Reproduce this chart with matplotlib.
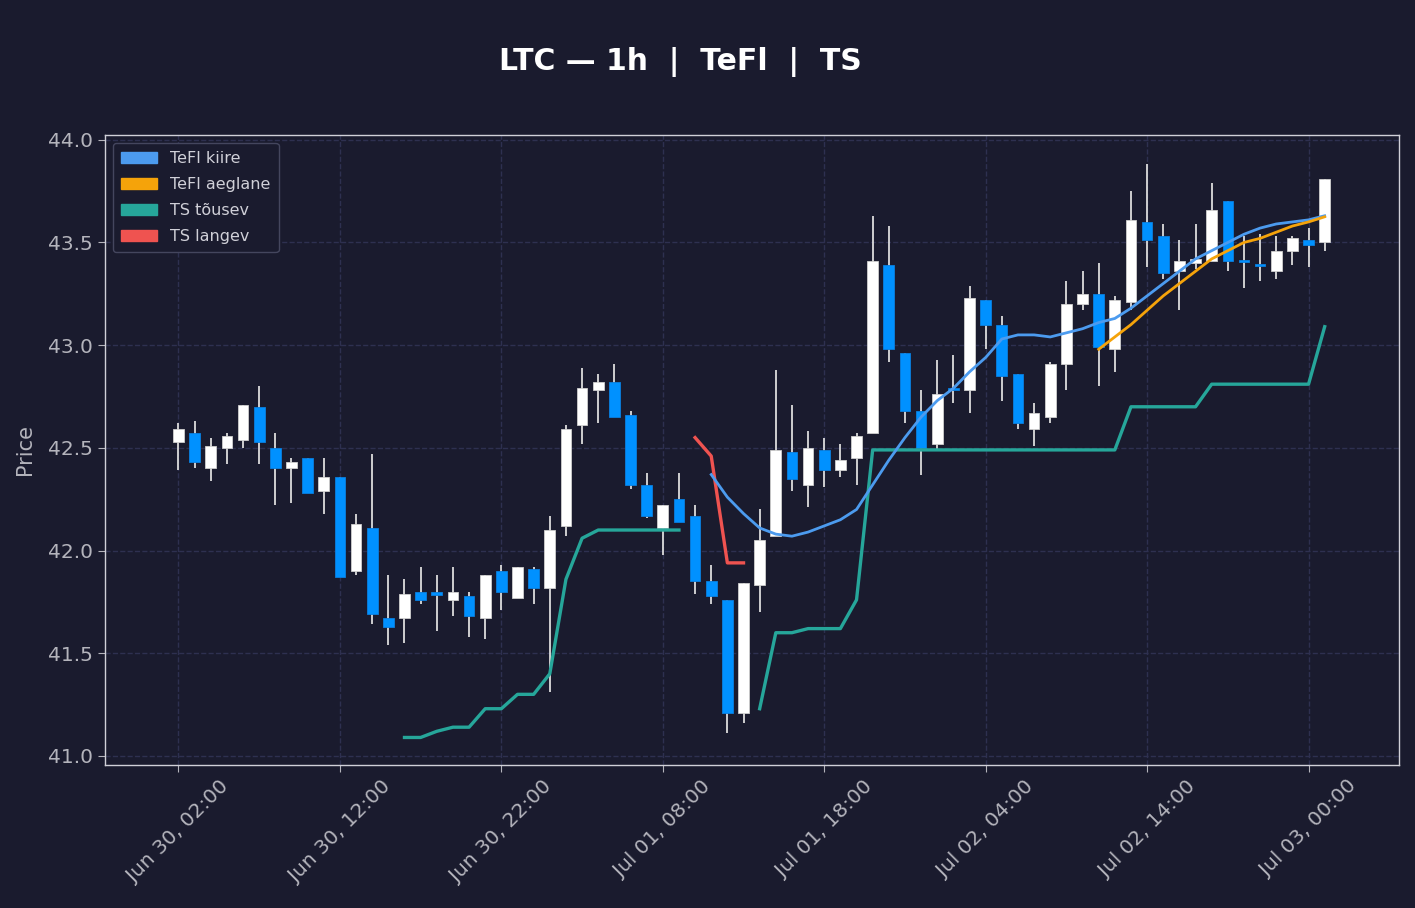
import matplotlib
matplotlib.use("Agg")
import matplotlib.pyplot as plt
import matplotlib.dates as mdates
import matplotlib.patches as mpatches
import numpy as np
import pandas as pd

# hourly candles, Jun 30 02:00 -> Jul 03 01:00
times = pd.date_range("2025-06-30 02:00", periods=72, freq="h")

opens = [42.53, 42.57, 42.40, 42.50, 42.54, 42.70, 42.50, 42.40, 42.45, 42.29,
         42.36, 41.90, 42.11, 41.67, 41.67, 41.80, 41.79, 41.76, 41.78, 41.67,
         41.90, 41.77, 41.91, 41.82, 42.12, 42.61, 42.78, 42.82, 42.66, 42.32,
         42.11, 42.25, 42.17, 41.85, 41.76, 41.21, 41.83, 42.07, 42.48, 42.32,
         42.49, 42.39, 42.45, 42.57, 43.39, 42.96, 42.68, 42.52, 42.79, 42.78,
         43.22, 43.10, 42.86, 42.59, 42.65, 42.91, 43.20, 43.25, 42.98, 43.21,
         43.60, 43.53, 43.36, 43.40, 43.41, 43.70, 43.415, 43.39, 43.36, 43.46,
         43.51, 43.50]
closes = [42.59, 42.43, 42.51, 42.56, 42.71, 42.53, 42.40, 42.43, 42.28, 42.36,
          41.87, 42.13, 41.69, 41.63, 41.79, 41.76, 41.785, 41.80, 41.68, 41.88,
          41.80, 41.92, 41.82, 42.10, 42.59, 42.79, 42.82, 42.65, 42.32, 42.17,
          42.22, 42.14, 41.85, 41.78, 41.21, 41.84, 42.05, 42.49, 42.35, 42.50,
          42.39, 42.44, 42.56, 43.41, 42.98, 42.68, 42.50, 42.76, 42.78, 43.23,
          43.10, 42.85, 42.62, 42.67, 42.91, 43.20, 43.25, 42.99, 43.22, 43.61,
          43.51, 43.35, 43.41, 43.42, 43.66, 43.41, 43.405, 43.385, 43.46, 43.52,
          43.49, 43.81]
highs = [42.62, 42.63, 42.55, 42.57, 42.71, 42.80, 42.57, 42.45, 42.45, 42.45,
         42.36, 42.18, 42.47, 41.88, 41.86, 41.92, 41.88, 41.92, 41.80, 41.88,
         41.93, 41.92, 41.92, 42.17, 42.61, 42.89, 42.86, 42.91, 42.68, 42.38,
         42.22, 42.38, 42.22, 41.93, 41.76, 41.84, 42.20, 42.88, 42.71, 42.58,
         42.55, 42.52, 42.57, 43.63, 43.58, 42.96, 42.78, 42.93, 42.95, 43.29,
         43.22, 43.14, 42.86, 42.72, 42.92, 43.31, 43.36, 43.40, 43.24, 43.75,
         43.88, 43.59, 43.51, 43.59, 43.79, 43.70, 43.53, 43.54, 43.53, 43.53,
         43.57, 43.81]
lows = [42.39, 42.40, 42.34, 42.42, 42.50, 42.42, 42.22, 42.23, 42.28, 42.18,
        41.87, 41.88, 41.64, 41.54, 41.55, 41.74, 41.61, 41.68, 41.58, 41.57,
        41.71, 41.77, 41.74, 41.31, 42.07, 42.52, 42.62, 42.65, 42.30, 42.16,
        41.98, 42.14, 41.79, 41.74, 41.11, 41.16, 41.70, 42.07, 42.29, 42.21,
        42.31, 42.36, 42.32, 42.57, 42.92, 42.62, 42.37, 42.49, 42.72, 42.67,
        42.98, 42.73, 42.59, 42.51, 42.62, 42.78, 43.17, 42.80, 42.87, 43.17,
        43.38, 43.32, 43.17, 43.37, 43.41, 43.36, 43.28, 43.31, 43.32, 43.39,
        43.38, 43.46]

N = np.nan
# TeFl fast / slow lines
tefl_kiire = [N]*33 + [42.37, 42.26, 42.18, 42.11, 42.08, 42.07, 42.09, 42.12, 42.15,
                       42.20, 42.32, 42.44, 42.55, 42.65, 42.73, 42.79, 42.87, 42.94, 43.03,
                       43.05, 43.05, 43.04, 43.06, 43.08, 43.11, 43.13, 43.18, 43.24, 43.30,
                       43.36, 43.42, 43.46, 43.50, 43.54, 43.57, 43.59, 43.60, 43.61, 43.63]
tefl_aeglane = [N]*57 + [42.98, 43.04, 43.10, 43.17, 43.24, 43.30, 43.36, 43.42, 43.46,
                         43.50, 43.52, 43.55, 43.58, 43.60, 43.625]

# trailing stop lines
ts_tousev = ([N]*14 + [41.09, 41.09, 41.12, 41.14, 41.14, 41.23, 41.23, 41.30, 41.30, 41.40,
                       41.86, 42.06, 42.10, 42.10, 42.10, 42.10, 42.10, 42.10]
             + [N]*4 + [41.23, 41.60, 41.60, 41.62, 41.62, 41.62, 41.76]
             + [42.49]*16 + [42.70]*5 + [42.81]*7 + [43.09])
ts_langev = [N]*32 + [42.55, 42.46, 41.94, 41.94] + [N]*36

# colours
bg = "#1a1b2e"
up_col = "#ffffff"
down_col = "#0091ff"
wick_col = "#dcdcdc"
c_kiire = "#4c9bef"
c_aeglane = "#f5a30a"
c_tousev = "#26a69a"
c_langev = "#ef5350"
txt_col = "#b4b4bc"

fig = plt.figure(figsize=(14.15, 9.08), dpi=100, facecolor=bg)
ax = fig.add_axes([0.074, 0.1575, 0.915, 0.694], facecolor=bg)

x = mdates.date2num(times.to_pydatetime())
o = np.array(opens); c = np.array(closes)
h = np.array(highs); l = np.array(lows)
up = c >= o

ax.vlines(x, l, h, color=wick_col, linewidth=1.3, zorder=2)
bw = 0.66 / 24
body_bot = np.minimum(o, c)
body_h = np.maximum(np.abs(c - o), 0.012)
ax.bar(x[up], body_h[up], bottom=body_bot[up], width=bw, color=up_col,
       edgecolor="#cfcfcf", linewidth=0.6, zorder=3)
ax.bar(x[~up], body_h[~up], bottom=body_bot[~up], width=bw, color=down_col,
       edgecolor="#0a7fe0", linewidth=0.6, zorder=3)

ax.plot(x, ts_tousev, color=c_tousev, linewidth=2.4, zorder=4)
ax.plot(x, ts_langev, color=c_langev, linewidth=2.4, zorder=4)
ax.plot(x, tefl_kiire, color=c_kiire, linewidth=2.0, zorder=5)
ax.plot(x, tefl_aeglane, color=c_aeglane, linewidth=2.0, zorder=5)

hr = 1 / 24
ax.set_xlim(x[0] - 4.57 * hr, x[-1] + 4.63 * hr)
ax.set_ylim(40.956, 44.024)

ticks = mdates.date2num(pd.date_range("2025-06-30 02:00", "2025-07-03 00:00", freq="10h").to_pydatetime())
ax.set_xticks(ticks)
ax.xaxis.set_major_formatter(mdates.DateFormatter("%b %d, %H:%M"))
ax.set_yticks(np.arange(41.0, 44.01, 0.5))
ax.yaxis.set_major_formatter(matplotlib.ticker.FormatStrFormatter("%.1f"))

ax.grid(True, color="#2e3050", linestyle="--", linewidth=1.0, zorder=0)
ax.set_axisbelow(True)
for s in ax.spines.values():
    s.set_color("#d0d0d8")
    s.set_linewidth(1.0)
ax.tick_params(colors=txt_col, labelsize=14.5, length=5)
plt.setp(ax.get_xticklabels(), rotation=45, ha="center")
ax.set_ylabel("Price", color=txt_col, fontsize=15)
ax.yaxis.set_label_coords(-0.054, 0.5)

fig.text(680 / 1415, 1 - 62 / 908, "LTC — 1h  |  TeFl  |  TS", color="white",
         fontsize=21.5, fontweight="bold", ha="center", va="center")

handles = [mpatches.Patch(color=c_kiire, label="TeFl kiire"),
           mpatches.Patch(color=c_aeglane, label="TeFl aeglane"),
           mpatches.Patch(color=c_tousev, label="TS tõusev"),
           mpatches.Patch(color=c_langev, label="TS langev")]
leg = ax.legend(handles=handles, loc="upper left", fontsize=11.5, facecolor=bg,
                edgecolor="#44465e", labelcolor="#d0d0d8", framealpha=1.0,
                borderpad=0.5, labelspacing=0.7, handlelength=2.3)

fig.savefig("out.png", dpi=100, facecolor=bg)
